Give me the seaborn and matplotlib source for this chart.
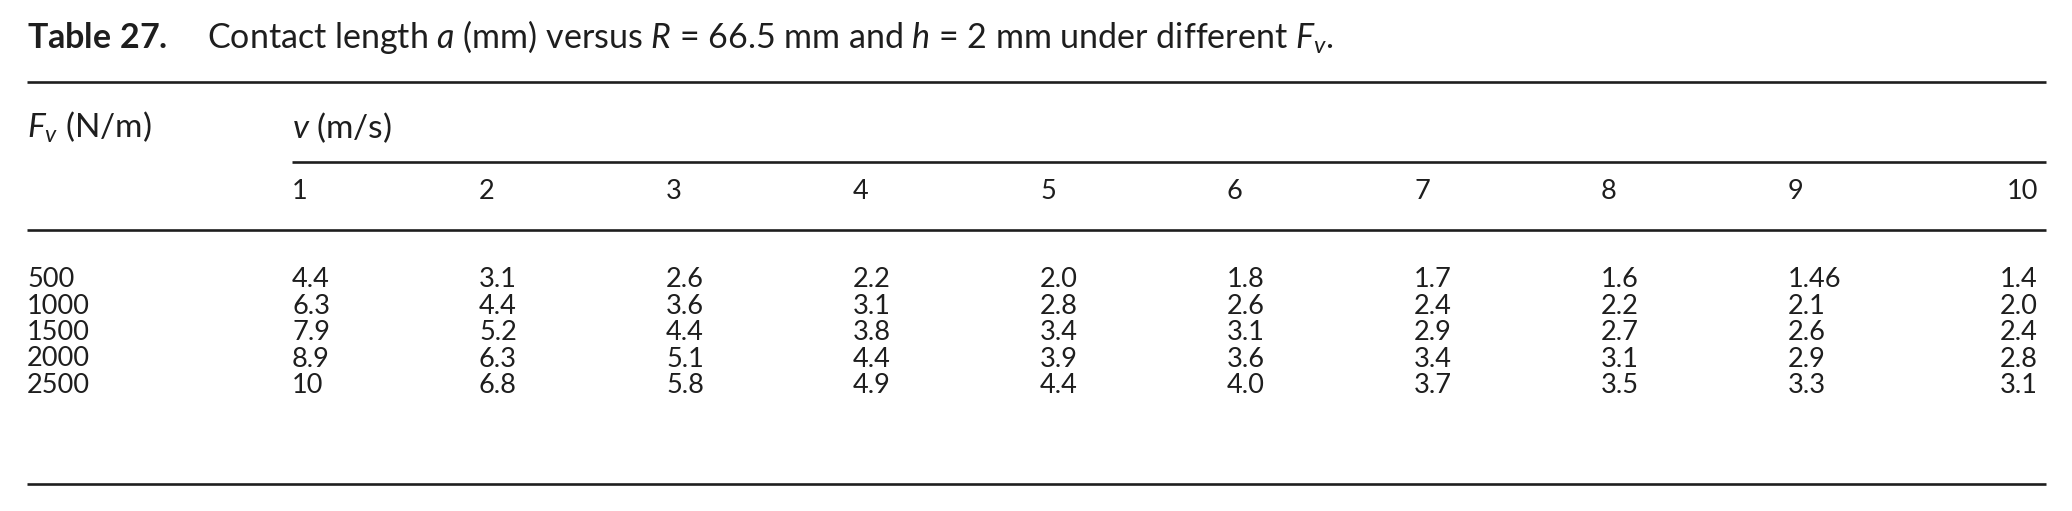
import numpy as np
import matplotlib
matplotlib.use("Agg")
import matplotlib.pyplot as plt
from matplotlib.colors import ListedColormap
import seaborn as sns

# ==================================================
# DATA (contact length a in mm)
# ==================================================

speeds = ["1", "2", "3", "4", "5", "6", "7", "8", "9", "10"]
forces = ["500", "1000", "1500", "2000", "2500"]

a_500 = ["4.4", "3.1", "2.6", "2.2", "2.0", "1.8", "1.7", "1.6", "1.46", "1.4"]
a_1000 = ["6.3", "4.4", "3.6", "3.1", "2.8", "2.6", "2.4", "2.2", "2.1", "2.0"]
a_1500 = ["7.9", "5.2", "4.4", "3.8", "3.4", "3.1", "2.9", "2.7", "2.6", "2.4"]
a_2000 = ["8.9", "6.3", "5.1", "4.4", "3.9", "3.6", "3.4", "3.1", "2.9", "2.8"]
a_2500 = ["10", "6.8", "5.8", "4.9", "4.4", "4.0", "3.7", "3.5", "3.3", "3.1"]

labels = np.array([a_500, a_1000, a_1500, a_2000, a_2500])
values = labels.astype(float)

# ==================================================
# STYLE / LAYOUT (pixels, baselines for text)
# ==================================================

sns.set_theme(style="white")
plt.rcParams["font.family"] = ["Lato", "DejaVu Sans"]
plt.rcParams["mathtext.fontset"] = "custom"
plt.rcParams["mathtext.rm"] = "Lato"
plt.rcParams["mathtext.it"] = "Lato:italic"
plt.rcParams["mathtext.bf"] = "Lato:bold"

INK = "#1e1e1e"
FS_TITLE = 24.5
FS_TEXT = 24
FS_NUM = 19.5
W, H = 2072, 511

x_left, x_right = 27, 2046
last_right = 2038
col0, col_step = 292, 187
row0, row_step = 287, 26.5

title_y = 48
rule_top = 82
head1_y = 138
rule_mid = 162
head2_y = 199
rule_head = 230
rule_bot = 484
lw = 1.9

fig = plt.figure(figsize=(W / 100, H / 100), dpi=100)

# ==================================================
# VALUE GRID (heatmap with white cells)
# ==================================================

hm_left = col0 - col_step / 2
hm_top = row0 - row_step / 2
hm_w = len(speeds) * col_step
hm_h = len(forces) * row_step

hm = fig.add_axes([
    hm_left / W,
    1 - (hm_top + hm_h) / H,
    hm_w / W,
    hm_h / H
])

sns.heatmap(
    values,
    annot=labels,
    fmt="",
    cmap=ListedColormap(["white"]),
    cbar=False,
    xticklabels=False,
    yticklabels=False,
    annot_kws=dict(ha="left", va="baseline", fontsize=FS_NUM, color=INK),
    ax=hm
)

# last column is right aligned
last_x = (last_right - hm_left) / col_step
for t in hm.texts:
    x, y = t.get_position()
    if x > len(speeds) - 1:
        t.set_ha("right")
        t.set_x(last_x)

# ==================================================
# RULES, HEADERS, TITLE
# ==================================================

ov = fig.add_axes([0, 0, 1, 1])
ov.set_xlim(0, W)
ov.set_ylim(H, 0)
ov.axis("off")
ov.patch.set_alpha(0)

ov.hlines([rule_top, rule_head, rule_bot], x_left, x_right, color=INK, lw=lw)
ov.hlines(rule_mid, col0, x_right, color=INK, lw=lw)

ov.text(
    x_left,
    title_y,
    r"$\mathbf{Table\ 27.}$    Contact length $a$ (mm) versus $R$ = 66.5 mm"
    r" and $h$ = 2 mm under different $F_v$.",
    ha="left",
    va="baseline",
    fontsize=FS_TITLE,
    color=INK
)

ov.text(x_left, head1_y, r"$F_v$ (N/m)", ha="left", va="baseline",
        fontsize=FS_TEXT, color=INK)
ov.text(col0, head1_y, r"$v$ (m/s)", ha="left", va="baseline",
        fontsize=FS_TEXT, color=INK)

for j, s in enumerate(speeds):
    if j == len(speeds) - 1:
        ov.text(last_right, head2_y, s, ha="right", va="baseline",
                fontsize=FS_NUM, color=INK)
    else:
        ov.text(col0 + j * col_step, head2_y, s, ha="left", va="baseline",
                fontsize=FS_NUM, color=INK)

for i, f in enumerate(forces):
    ov.text(x_left, row0 + i * row_step, f, ha="left", va="baseline",
            fontsize=FS_NUM, color=INK)

fig.savefig("out.png", dpi=100, facecolor="white")
plt.close()
